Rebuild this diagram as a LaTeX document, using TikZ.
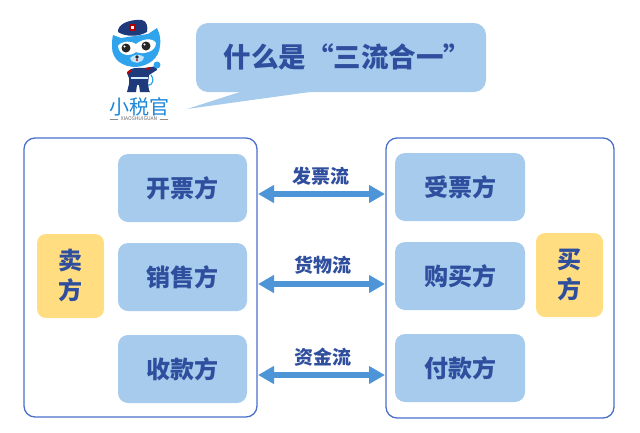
\documentclass[tikz,border=0pt]{standalone}
\usepackage{fontspec}
\setmainfont{Noto Sans CJK SC}
\usetikzlibrary{arrows.meta}
\definecolor{boxblue}{HTML}{A6CBEC}
\definecolor{txtblue}{HTML}{2F4E9E}
\definecolor{lineblue}{HTML}{4A6FCB}
\definecolor{arrowblue}{HTML}{4E95D8}
\definecolor{boxyellow}{HTML}{FFDD80}
\definecolor{catblue}{HTML}{2FA4EC}
\definecolor{logoblue}{HTML}{1C86D8}
\definecolor{catnavy}{HTML}{1F3A7A}
\tikzset{
	rolebox/.style={fill=boxblue,rounded corners=10pt,minimum width=129pt,minimum height=68pt,inner sep=0pt,text=txtblue,font=\bfseries\fontsize{24}{24}\selectfont},
	sidebox/.style={fill=boxyellow,rounded corners=9pt,minimum width=67pt,minimum height=84pt,inner sep=0pt,text=txtblue,align=center,font=\bfseries\fontsize{24}{30}\selectfont},
	panel/.style={draw=lineblue,line width=1.3pt,rounded corners=11pt,inner sep=0pt},
	flow/.style={arrowblue,line width=6pt,line cap=butt,{Triangle[length=16pt,width=17pt]}-{Triangle[length=16pt,width=17pt]}},
	flowtxt/.style={text=txtblue,inner sep=0pt,font=\bfseries\fontsize{19}{19}\selectfont}
}
\begin{document}
\begin{tikzpicture}[line cap=round,line join=round,x=1pt,y=-1pt]
	\useasboundingbox (0,0) rectangle (640,432);
	% speech bubble
	\fill[boxblue] (243,91) -- (187,109) -- (317,91) -- cycle;
	\node[fill=boxblue,rounded corners=12pt,minimum width=290pt,minimum height=69pt,inner sep=0pt] (bubble) at (341,57.5) {};
	\node[text=txtblue,inner sep=0pt,font=\bfseries\fontsize{27.5}{27.5}\selectfont] (title) at (347.5,56.5) {什么是“三流合一”};
	% mascot: legs, body, arm, tail
	\draw[catblue,line width=1.2pt] (147,85) .. controls (154,86) and (154,78) .. (151,75);
	\fill[catnavy] (127,73) .. controls (129,69) and (133,68) .. (137,68) .. controls (142,68) and (147,68) .. (151,67) -- (156,66) -- (157,70) -- (149,75) -- (148,84) -- (149,90) -- (150,92) -- (140,92) -- (139,85) -- (137,85) -- (136,92) -- (127,92) -- (129,84) -- (129,78) -- cycle;
	\fill[white!80!catblue] (131,76.5) rectangle (148,79);
	\fill[red!75!black] (127,72) -- (131,69.5) -- (132,71) -- (128,74) -- cycle (146,68) -- (150,67) -- (150.5,69) -- (147,70) -- cycle;
	\fill[catblue] (157,65) circle (3.5);
	% mascot: head
	\fill[catblue] (113,35) -- (121,38) -- (148,34) -- (157,28) .. controls (160,34) and (161,40) .. (160,46) .. controls (159,58) and (149,66) .. (136,67) .. controls (123,67) and (112,60) .. (112,47) .. controls (112,43) and (112,39) .. (113,35) -- cycle;
	\fill[white] (118,46) .. controls (122,40) and (132,41) .. (136,44) .. controls (142,39) and (152,37) .. (156,43) .. controls (156,52) and (143,55) .. (136,52) .. controls (130,57) and (119,56) .. (118,46) -- cycle;
	\fill[black!85] (126,48) circle (4.5) (146,46) circle (4.5);
	\fill[white] (124.5,46.5) circle (1.1) (144.5,44.5) circle (1.1);
	\fill[white!70!catblue] (130,58) .. controls (133,54) and (141,54) .. (144,57) .. controls (143,64) and (132,65) .. (130,58) -- cycle;
	\fill[black!85] (137,57) circle (1.8);
	\fill[red!75!black] (137,60) circle (1.2);
	% mascot: cap
	\fill[catnavy] (118,32) .. controls (117,25) and (128,19) .. (142,20) .. controls (147,21) and (148,27) .. (147,32) .. controls (138,37) and (126,37) .. (118,32) -- cycle;
	\fill[red!70!black] (129,24) rectangle (135.5,31);
	\fill[white] (131,26) rectangle (133.5,29);
	% logo text
	\node[text=logoblue,inner sep=0pt,font=\fontsize{20}{20}\selectfont] (logotxt) at (139,107) {小税官};
	\node[text=black!60,inner sep=0pt,font=\fontsize{5}{5}\selectfont] (logosub) at (139,119) {XIAOSHUIGUAN};
	\draw[black!45,line width=.4pt] (110,119) -- (118,119);
	\draw[black!45,line width=.4pt] (160,119) -- (168,119);
	% panels
	\node[panel,minimum width=233pt,minimum height=279pt] (sellpanel) at (140.5,277.5) {};
	\node[panel,minimum width=228pt,minimum height=280pt] (buypanel) at (500,278) {};
	% left side
	\node[rolebox] (kaipiao) at (182.5,188) {开票方};
	\node[rolebox] (xiaoshou) at (182.5,277) {销售方};
	\node[rolebox] (shoukuan) at (182.5,369) {收款方};
	\node[sidebox] (seller) at (70.5,276) {卖\\方};
	% right side
	\node[rolebox,minimum width=130pt] (shoupiao) at (460,187) {受票方};
	\node[rolebox,minimum width=130pt] (goumai) at (460,276) {购买方};
	\node[rolebox,minimum width=130pt] (fukuan) at (460,368) {付款方};
	\node[sidebox] (buyer) at (569.5,275) {买\\方};
	% flows
	\coordinate (fpL) at (258,194);
	\coordinate (fpR) at (385,194);
	\coordinate (hwL) at (258,284);
	\coordinate (hwR) at (385,284);
	\coordinate (zjL) at (258,375);
	\coordinate (zjR) at (385,375);
	\draw[flow] (fpL) -- (fpR);
	\draw[flow] (hwL) -- (hwR);
	\draw[flow] (zjL) -- (zjR);
	\node[flowtxt] (fapiaoliu) at (321,176) {发票流};
	\node[flowtxt] (huowuliu) at (323,265) {货物流};
	\node[flowtxt] (zijinliu) at (323,357) {资金流};
\end{tikzpicture}
\end{document}
